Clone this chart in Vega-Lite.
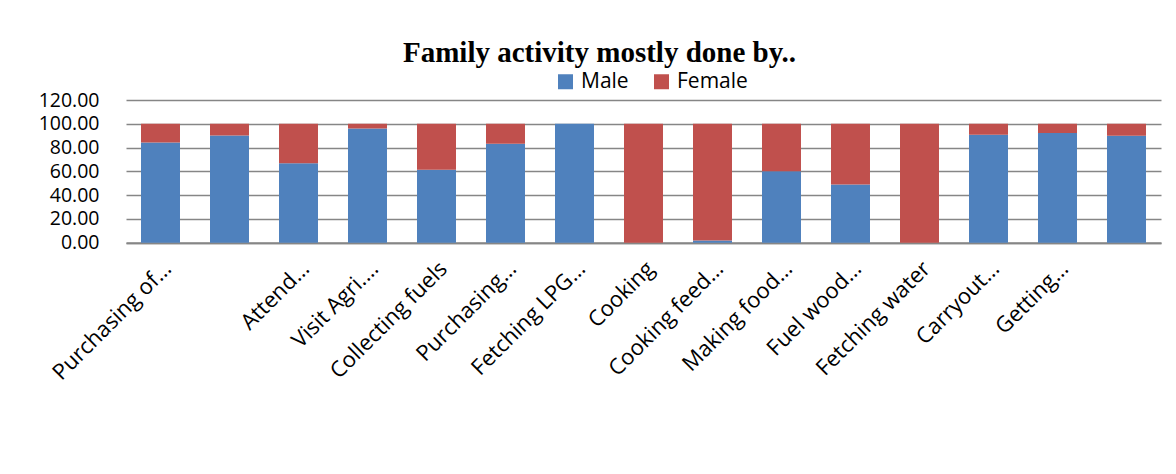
{
  "$schema": "https://vega.github.io/schema/vega-lite/v6.json",
  "width": 1035,
  "height": 142.7,
  "autosize": {"type": "none"},
  "padding": {"left": 126, "top": 100, "right": 15, "bottom": 231.3},
  "background": "white",
  "title": {
    "text": "Family activity mostly done by..",
    "font": "Liberation Serif",
    "fontSize": 29,
    "fontWeight": "bold",
    "color": "#000000",
    "anchor": "middle",
    "dx": -44,
    "offset": 3
  },
  "data": {
    "values": [
      {"activity": "Purchasing of…", "gender": "Male", "value": 84.2},
      {"activity": "Purchasing of…", "gender": "Female", "value": 15.8},
      {"activity": " ", "gender": "Male", "value": 90.1},
      {"activity": " ", "gender": "Female", "value": 9.9},
      {"activity": "Attend…", "gender": "Male", "value": 66.8},
      {"activity": "Attend…", "gender": "Female", "value": 33.2},
      {"activity": "Visit Agri.…", "gender": "Male", "value": 96.0},
      {"activity": "Visit Agri.…", "gender": "Female", "value": 4.0},
      {"activity": "Collecting fuels", "gender": "Male", "value": 61.4},
      {"activity": "Collecting fuels", "gender": "Female", "value": 38.6},
      {"activity": "Purchasing…", "gender": "Male", "value": 83.3},
      {"activity": "Purchasing…", "gender": "Female", "value": 16.7},
      {"activity": "Fetching LPG…", "gender": "Male", "value": 100},
      {"activity": "Fetching LPG…", "gender": "Female", "value": 0},
      {"activity": "Cooking", "gender": "Male", "value": 0},
      {"activity": "Cooking", "gender": "Female", "value": 100},
      {"activity": "Cooking feed…", "gender": "Male", "value": 1.8},
      {"activity": "Cooking feed…", "gender": "Female", "value": 98.2},
      {"activity": "Making food…", "gender": "Male", "value": 60.0},
      {"activity": "Making food…", "gender": "Female", "value": 40.0},
      {"activity": "Fuel wood…", "gender": "Male", "value": 49.0},
      {"activity": "Fuel wood…", "gender": "Female", "value": 51.0},
      {"activity": "Fetching water", "gender": "Male", "value": 0},
      {"activity": "Fetching water", "gender": "Female", "value": 100},
      {"activity": "Carryout…", "gender": "Male", "value": 90.7},
      {"activity": "Carryout…", "gender": "Female", "value": 9.3},
      {"activity": "Getting…", "gender": "Male", "value": 92.2},
      {"activity": "Getting…", "gender": "Female", "value": 7.8},
      {"activity": "  ", "gender": "Male", "value": 89.9},
      {"activity": "  ", "gender": "Female", "value": 10.1}
    ]
  },
  "mark": {"type": "bar"},
  "encoding": {
    "x": {
      "field": "activity",
      "type": "nominal",
      "sort": null,
      "scale": {"paddingInner": 0.435, "paddingOuter": 0.2175},
      "axis": {
        "title": null,
        "labelAngle": -45,
        "labelFont": "Open Sans",
        "labelFontSize": 22,
        "labelColor": "#000000",
        "labelPadding": 15,
        "ticks": false,
        "grid": false,
        "domainColor": "#868686",
        "domainWidth": 2,
        "labelOverlap": false,
        "labelLimit": 400
      }
    },
    "y": {
      "field": "value",
      "type": "quantitative",
      "stack": "zero",
      "scale": {"domain": [0, 120], "nice": false},
      "axis": {
        "title": null,
        "values": [0, 20, 40, 60, 80, 100, 120],
        "format": ".2f",
        "labelFont": "Open Sans",
        "labelFontSize": 19.5,
        "labelColor": "#000000",
        "labelPadding": 27,
        "ticks": false,
        "domain": false,
        "grid": true,
        "gridColor": "#868686",
        "gridWidth": 1.6
      }
    },
    "color": {
      "field": "gender",
      "type": "nominal",
      "scale": {"domain": ["Male", "Female"], "range": ["#4F81BD", "#C0504D"]},
      "legend": {
        "title": null,
        "orient": "none",
        "legendX": 429,
        "legendY": -29,
        "direction": "horizontal",
        "symbolType": "square",
        "symbolSize": 225,
        "symbolStrokeWidth": 0,
        "labelFont": "Open Sans",
        "labelFontSize": 21,
        "labelColor": "#000000",
        "labelOffset": 5,
        "columnPadding": 22
      }
    },
    "order": {"field": "gender", "sort": "descending"}
  },
  "config": {"view": {"stroke": null}}
}
